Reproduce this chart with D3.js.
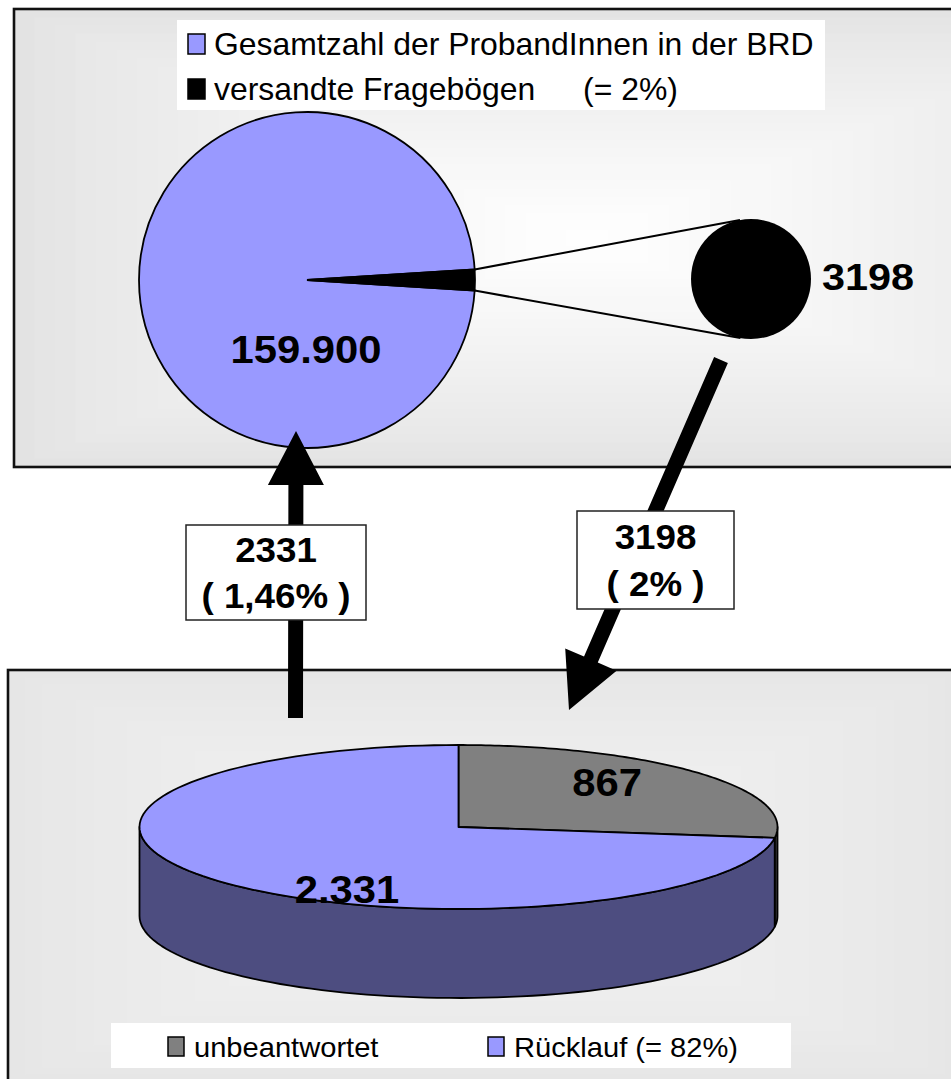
<!DOCTYPE html>
<html><head><meta charset="utf-8">
<script src="https://cdn.jsdelivr.net/npm/d3@7"></script>
<style>html,body{margin:0;padding:0;background:#fff;}svg{display:block;font-family:"Liberation Sans",Arial,sans-serif;}</style>
</head><body>
<script>
// ---- data ----
const topCategories = ["Gesamtzahl der ProbandInnen in der BRD", "versandte Fragebögen"];
const topValues = [159900, 3198];           // total population, questionnaires sent
const topLegendExtra = ["", "(= 2%)"];
const topLabels = ["159.900", "3198"];
const flowLabels = [["2331", "( 1,46% )"], ["3198", "( 2% )"]];
const bottomCategories = ["unbeantwortet", "Rücklauf (= 82%)"];
const bottomValues = [867, 2331];
const bottomLabels = ["867", "2.331"];

const W = 951, H = 1079;
const svg = d3.select("body").append("svg").attr("width", W).attr("height", H);

function txt(g, x, y, s, size, weight, anchor, sx) {
  return g.append("text")
    .attr("transform", `translate(${x},${y}) scale(${sx},1)`)
    .attr("text-anchor", anchor).attr("font-size", size).attr("font-weight", weight)
    .attr("fill", "#000").text(s);
}

// rectangular "from center" gradient panel
function panel(x0, y0, x1, y1, cx, cy, cEdge, cCenter, clipY1) {
  const g = svg.append("g");
  const col = d3.interpolateRgb(cEdge, cCenter);
  g.append("rect").attr("x", x0).attr("y", y0).attr("width", x1 - x0).attr("height", clipY1 - y0).attr("fill", cEdge);
  const N = 28;
  for (let i = 1; i <= N; i++) {
    const t = i / N;
    const a = x0 + (cx - x0) * t, b = y0 + (cy - y0) * t;
    const c = x1 + (cx - x1) * t, d = y1 + (cy - y1) * t;
    g.append("rect").attr("x", a).attr("y", b).attr("width", Math.max(0, c - a)).attr("height", Math.max(0, Math.min(d, clipY1) - b))
      .attr("fill", col(Math.pow(t, 0.8)));
  }
  g.append("rect").attr("x", x0).attr("y", y0).attr("width", x1 - x0).attr("height", clipY1 - y0)
    .attr("fill", "none").attr("stroke", "#111").attr("stroke-width", 2.6);
  return g;
}

// ---------- top panel ----------
panel(14, 9, 1160, 467, 587, 238, "#e3e3e3", "#ffffff", 467);

// legend top
const lg = svg.append("g");
lg.append("rect").attr("x", 177).attr("y", 20).attr("width", 648).attr("height", 90).attr("fill", "#fff");
const topColors = ["#9999ff", "#000000"];
const legY = [55, 100];
topCategories.forEach((c, i) => {
  lg.append("rect").attr("x", 188).attr("y", legY[i] - 21).attr("width", 17).attr("height", 20)
    .attr("fill", topColors[i]).attr("stroke", "#000").attr("stroke-width", 1.5);
  txt(lg, 214, legY[i], c, 31, "normal", "start", 1.03);
  if (topLegendExtra[i]) txt(lg, 583, legY[i], topLegendExtra[i], 31, "normal", "start", 1.03);
});

// top pie
const pcx = 307, pcy = 280, pr = 168;
const half = Math.PI * topValues[1] / topValues[0];
const topPie = d3.pie().sort(null)
  .startAngle(Math.PI / 2 + half).endAngle(Math.PI / 2 + half + 2 * Math.PI)
  ([topValues[0] - topValues[1], topValues[1]]);
const arc = d3.arc().innerRadius(0).outerRadius(pr);
const tp = svg.append("g").attr("transform", `translate(${pcx},${pcy})`);
tp.selectAll("path").data(topPie).join("path")
  .attr("d", arc).attr("fill", (d, i) => topColors[i])
  .attr("stroke", "#000").attr("stroke-width", 1.8);

// exploded "sent" circle
const bcx = 751, bcy = 279, br = 60;
function tangent(px, py, sign) {
  const dx = px - bcx, dy = py - bcy, d = Math.hypot(dx, dy);
  const base = Math.atan2(dy, dx), off = Math.acos(br / d);
  const a = base + sign * off;
  return [bcx + br * Math.cos(a), bcy + br * Math.sin(a)];
}
const sent = topPie[1];
const eTop = [pcx + pr * Math.sin(sent.startAngle), pcy - pr * Math.cos(sent.startAngle)];
const eBot = [pcx + pr * Math.sin(sent.endAngle), pcy - pr * Math.cos(sent.endAngle)];
const tTop = tangent(eTop[0], eTop[1], 1);
const tBot = tangent(eBot[0], eBot[1], -1);
svg.append("line").attr("x1", eTop[0]).attr("y1", eTop[1]).attr("x2", tTop[0]).attr("y2", tTop[1]).attr("stroke", "#000").attr("stroke-width", 2);
svg.append("line").attr("x1", eBot[0]).attr("y1", eBot[1]).attr("x2", tBot[0]).attr("y2", tBot[1]).attr("stroke", "#000").attr("stroke-width", 2);
svg.append("circle").attr("cx", bcx).attr("cy", bcy).attr("r", br).attr("fill", "#000");

txt(svg, 306, 363, topLabels[0], 38, "bold", "middle", 1.1);
txt(svg, 822, 290, topLabels[1], 37, "bold", "start", 1.12);

// ---------- bottom panel ----------
panel(8, 670, 962, 1082, 485, 876, "#e6e6e6", "#f4f4f4", 1085);

// ---------- arrows ----------
function arrow(x0, y0, x1, y1, w, hl, hh) {
  const L = Math.hypot(x1 - x0, y1 - y0), ux = (x1 - x0) / L, uy = (y1 - y0) / L;
  const nx = -uy, ny = ux;
  const bx = x1 - ux * hl, by = y1 - uy * hl;
  const pts = [
    [x0 + nx * w / 2, y0 + ny * w / 2], [bx + nx * w / 2, by + ny * w / 2], [bx + nx * hh, by + ny * hh],
    [x1, y1],
    [bx - nx * hh, by - ny * hh], [bx - nx * w / 2, by - ny * w / 2], [x0 - nx * w / 2, y0 - ny * w / 2]
  ];
  svg.append("path").attr("d", d3.line()(pts) + "Z").attr("fill", "#000");
}
arrow(721, 360, 569, 710, 15, 55, 28);
arrow(295.5, 718, 296, 431, 15, 54, 28);

// flow boxes
const boxes = [{x: 186, y: 525, w: 180, h: 95, cx: 276, b: [562, 608]},
               {x: 577, y: 511, w: 157, h: 98, cx: 655.5, b: [549, 596]}];
boxes.forEach((bx, i) => {
  svg.append("rect").attr("x", bx.x).attr("y", bx.y).attr("width", bx.w).attr("height", bx.h)
    .attr("fill", "#fff").attr("stroke", "#222").attr("stroke-width", 1.5);
  flowLabels[i].forEach((s, j) => txt(svg, bx.cx, bx.b[j], s, 35, "bold", "middle", 1.05));
});

// ---------- 3D pie ----------
const ecx = 458.5, ecy = 827, erx = 319, ery = 82, depth = 89;
const botColors = ["#808080", "#9999ff"];
const sideColors = ["#404040", "#4d4d80"];
const botPie = d3.pie().sort(null).startAngle(0).endAngle(2 * Math.PI)(bottomValues);
const P = (a, dz) => [ecx + erx * Math.sin(a), ecy - ery * Math.cos(a) + (dz || 0)];
const g3 = svg.append("g");
// sides (front half: angles PI/2..3PI/2)
botPie.forEach((d, i) => {
  const a0 = Math.max(d.startAngle, Math.PI / 2), a1 = Math.min(d.endAngle, 3 * Math.PI / 2);
  if (a1 <= a0) return;
  const n = 80, top = [], bot = [];
  for (let k = 0; k <= n; k++) { const a = a0 + (a1 - a0) * k / n; top.push(P(a)); bot.push(P(a, depth)); }
  g3.append("path").attr("d", d3.line()(top.concat(bot.reverse())) + "Z")
    .attr("fill", sideColors[i]).attr("stroke", "#000").attr("stroke-width", 1.8).attr("stroke-linejoin", "round");
});
// tops
botPie.forEach((d, i) => {
  const n = 120, pts = [[ecx, ecy]];
  for (let k = 0; k <= n; k++) pts.push(P(d.startAngle + (d.endAngle - d.startAngle) * k / n));
  g3.append("path").attr("d", d3.line()(pts) + "Z")
    .attr("fill", botColors[i]).attr("stroke", "#000").attr("stroke-width", 1.8).attr("stroke-linejoin", "round");
});
txt(svg, 607, 796, bottomLabels[0], 38, "bold", "middle", 1.1);
txt(svg, 347, 903, bottomLabels[1], 38, "bold", "middle", 1.1);

// bottom legend
const bl = svg.append("g");
bl.append("rect").attr("x", 111).attr("y", 1023).attr("width", 680).attr("height", 45).attr("fill", "#fff");
const blX = [[168, 194], [488, 514]];
bottomCategories.forEach((c, i) => {
  bl.append("rect").attr("x", blX[i][0]).attr("y", 1037).attr("width", 16).attr("height", 19)
    .attr("fill", botColors[i]).attr("stroke", "#000").attr("stroke-width", 1.5);
  txt(bl, blX[i][1], 1057, c, 28, "normal", "start", 1.04);
});
</script>
</body></html>
